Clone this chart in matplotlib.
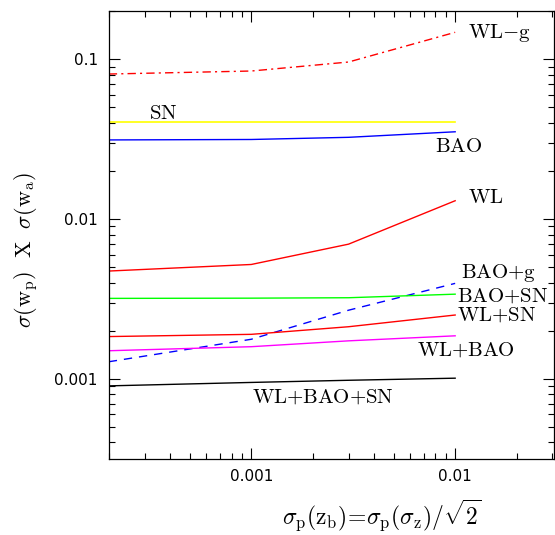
import matplotlib
matplotlib.use("Agg")
import matplotlib.pyplot as plt
import numpy as np

plt.rcParams['mathtext.fontset'] = 'cm'

x = [2e-4, 1e-3, 3e-3, 1e-2]

wl_g = [0.0809, 0.0845, 0.0962, 0.1476]
sn = [0.0405, 0.0405, 0.0405, 0.0405]
bao = [0.0313, 0.0315, 0.0325, 0.0352]
wl = [0.00473, 0.0052, 0.00697, 0.01303]
bao_g = [0.00128, 0.00177, 0.00269, 0.00396]
bao_sn = [0.00319, 0.0032, 0.00322, 0.00339]
wl_sn = [0.00184, 0.0019, 0.00212, 0.00251]
wl_bao = [0.0015, 0.00159, 0.00173, 0.00186]
wl_bao_sn = [0.000904, 0.00095, 0.00098, 0.00101]

labels = [r"$\rm WL{-}g$", r"$\rm SN$", r"$\rm BAO$", r"$\rm WL$", r"$\rm BAO{+}g$",
          r"$\rm BAO{+}SN$", r"$\rm WL{+}SN$", r"$\rm WL{+}BAO$",
          r"$\rm WL{+}BAO{+}SN$"]
label_pos = [(0.0115, 0.146), (3.15e-4, 0.0463), (0.008, 0.0288), (0.0115, 0.0138),
             (0.01066, 0.00461), (0.0102, 0.0033), (0.0102, 0.00253), (0.00647, 0.00153),
             (0.00101, 0.00077)]

fig = plt.figure(figsize=(5.55, 5.35), dpi=100)
ax = fig.add_axes([0.196, 0.142, 0.802, 0.837])

ax.plot(x, wl_g, color='#ff0000', lw=1.0, dashes=[6, 3, 1.5, 3])
ax.plot(x, sn, color='#ffff00', lw=1.2)
ax.plot(x, bao, color='#0000ff', lw=1.0)
ax.plot(x, wl, color='#ff0000', lw=1.0)
ax.plot(x, bao_g, color='#0000ff', lw=1.0, dashes=[6, 5])
ax.plot(x, bao_sn, color='#00ff00', lw=1.0)
ax.plot(x, wl_sn, color='#ff0000', lw=1.0)
ax.plot(x, wl_bao, color='#ff00ff', lw=1.0)
ax.plot(x, wl_bao_sn, color='#000000', lw=1.0)

for lab, (lx, ly) in zip(labels, label_pos):
    ax.text(lx, ly, lab, fontsize=15, ha='left', va='center')

ax.set_xscale('log')
ax.set_yscale('log')
ax.set_xlim(2e-4, 0.0305)
ax.set_ylim(3.15e-4, 0.2)

ax.set_xticks([1e-3, 1e-2])
ax.set_xticklabels(['0.001', '0.01'])
ax.set_yticks([1e-3, 1e-2, 1e-1])
ax.set_yticklabels(['0.001', '0.01', '0.1'])

ax.tick_params(which='both', direction='in', top=True, right=True, width=0.8)
ax.tick_params(which='major', length=8, labelsize=11)
ax.tick_params(axis='y', which='major', pad=8)
ax.tick_params(axis='x', which='major', pad=7)
ax.tick_params(which='minor', length=4)
for s in ax.spines.values():
    s.set_linewidth(0.9)

fig.text(382/555, 1 - 515/535, r'$\sigma_{\rm p}({\rm z_b})\!=\!\sigma_{\rm p}(\sigma_{\rm z})/\sqrt{2}$',
         fontsize=17, ha='center', va='center')
fig.text(27/555, 1 - 250/535, r'$\sigma({\rm w_p})\ \ {\rm X}\ \ \sigma({\rm w_a})$',
         fontsize=16, ha='center', va='center', rotation=90)

fig.savefig('out.png', dpi=100)
